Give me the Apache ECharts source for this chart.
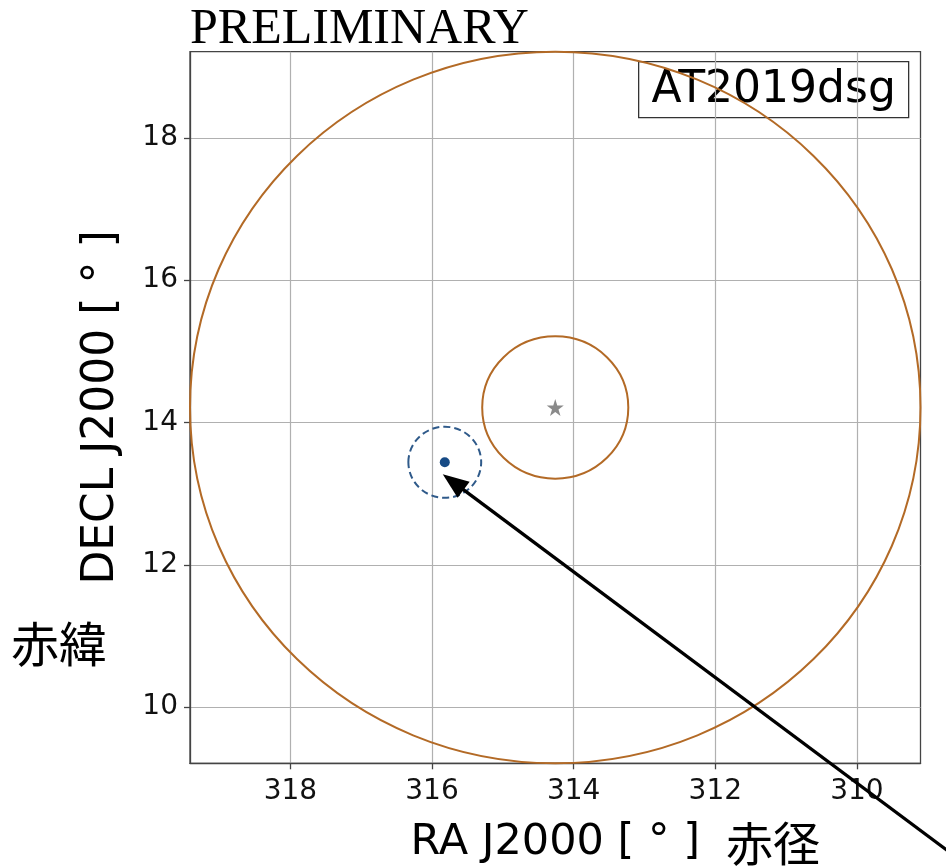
<!DOCTYPE html>
<html>
<head>
<meta charset="utf-8">
<script src="https://cdn.jsdelivr.net/npm/echarts@6/dist/echarts.min.js"></script>
<style>html,body{margin:0;padding:0;background:#fff;}#c{width:946px;height:866px;}</style>
</head>
<body>
<div id="c"></div>
<script>
// ---- data ----
const sourceName = 'AT2019dsg';
const sourcePos = [314.26, 14.21];          // star (RA, Dec)
const brownRadii = [5, 1];                   // brown circles around the source, deg
const bluePoint = [315.82, 13.44];           // blue point (RA, Dec)
const blueRadius = [0.5];                    // dashed circle radius, deg
const xTicks = [310, 312, 314, 316, 318];
const yTicks = [10, 12, 14, 16, 18];
const xName = 'RA J2000 [ ° ]';
const yName = 'DECL J2000 [ ° ]';
const xNameJa = '赤径';
const yNameJa = '赤緯';
const watermark = 'PRELIMINARY';

// ---- derived axis limits (outer circle bounds) ----
const d2r = Math.PI / 180;
const outerR = brownRadii[0];
const xHalf = outerR / Math.cos(sourcePos[1] * d2r);
const xMin = sourcePos[0] - xHalf, xMax = sourcePos[0] + xHalf;
const yMin = sourcePos[1] - outerR, yMax = sourcePos[1] + outerR;

const brownData = brownRadii.map(r => [sourcePos[0], sourcePos[1], r]);
const blueCircleData = blueRadius.map(r => [bluePoint[0], bluePoint[1], r]);

function circleRenderer(color, dash) {
  return function (params, api) {
    const ra = api.value(0), dec = api.value(1), r = api.value(2);
    const c = api.coord([ra, dec]);
    const sz = api.size([2 * r / Math.cos(dec * d2r), 2 * r]);
    return {
      type: 'ellipse',
      shape: { cx: c[0], cy: c[1], rx: sz[0] / 2, ry: sz[1] / 2 },
      style: { fill: null, stroke: color, lineWidth: 2, lineDash: dash || null }
    };
  };
}

const FONT = 'DejaVu Sans';
const chart = echarts.init(document.getElementById('c'), null, { renderer: 'canvas' });

const option = {
  backgroundColor: '#ffffff',
  animation: false,
  grid: { left: 190, right: 25.5, top: 51.7, bottom: 102.7, show: true, borderColor: '#444', borderWidth: 1.3, backgroundColor: 'transparent', containLabel: false, outerBoundsMode: 'none' },
  xAxis: {
    type: 'value', inverse: true, min: xMin, max: xMax, splitNumber: 5,
    name: xName, nameLocation: 'middle', nameGap: 58,
    nameTextStyle: { fontFamily: FONT, fontSize: 43, color: '#000' },
    axisLine: { show: true, onZero: false, lineStyle: { color: '#444', width: 1.3 } },
    axisTick: { show: true, length: 6, customValues: xTicks, lineStyle: { color: '#444', width: 1.3 } },
    axisLabel: { customValues: xTicks, margin: 14, fontFamily: FONT, fontSize: 28, color: '#111' },
    splitLine: { show: true, lineStyle: { color: '#b0b0b0', width: 1.2 } }
  },
  yAxis: {
    type: 'value', min: yMin, max: yMax, splitNumber: 5,
    name: yName, nameLocation: 'middle', nameGap: 66, nameRotate: 90,
    nameTextStyle: { fontFamily: FONT, fontSize: 44, color: '#000' },
    axisLine: { show: true, onZero: false, lineStyle: { color: '#444', width: 1.3 } },
    axisTick: { show: true, length: 6, customValues: yTicks, lineStyle: { color: '#444', width: 1.3 } },
    axisLabel: { customValues: yTicks, margin: 12, fontFamily: FONT, fontSize: 28, color: '#111' },
    splitLine: { show: true, lineStyle: { color: '#b0b0b0', width: 1.2 } }
  },
  series: [
    {
      type: 'custom', name: 'brown', clip: false, z: 3,
      encode: { x: 0, y: 1 },
      data: brownData,
      renderItem: circleRenderer('#b36a26')
    },
    {
      type: 'custom', name: 'blueCircle', clip: false, z: 3,
      encode: { x: 0, y: 1 },
      data: blueCircleData,
      renderItem: circleRenderer('#2f5a8a', [7, 4])
    },
    {
      type: 'scatter', name: sourceName, z: 4,
      symbol: 'path://M50,0 L61.2,34.5 L97.6,34.5 L68.2,55.9 L79.4,90.5 L50,69.1 L20.6,90.5 L31.8,55.9 L2.4,34.5 L38.8,34.5 Z',
      symbolSize: 17,
      itemStyle: { color: '#8a8a8a', opacity: 1 },
      data: [sourcePos]
    },
    {
      type: 'scatter', name: 'point', z: 4,
      symbol: 'circle', symbolSize: 10,
      itemStyle: { color: '#164a85', opacity: 1 },
      data: [bluePoint]
    }
  ],
  graphic: []
};
chart.setOption(option);

// ---- annotations ----
const p = chart.convertToPixel({ gridIndex: 0 }, bluePoint);
const ang = Math.atan2(375, 503);
const ux = Math.cos(ang), uy = Math.sin(ang);
const tip = [p[0] - 2, p[1] + 12];
const headLen = 26, headW = 10;
const base = [tip[0] + ux * headLen, tip[1] + uy * headLen];
const far = [tip[0] + ux * 720, tip[1] + uy * 720];

chart.setOption({
  graphic: [
    {
      type: 'text', left: 190, top: 5, z: 10,
      style: { text: watermark, font: '50px "Liberation Serif", "DejaVu Serif", serif', fill: '#000' }
    },
    {
      type: 'group', z: 10, left: 638, top: 61,
      children: [
        { type: 'rect', shape: { x: 0, y: 0, width: 270, height: 56 }, style: { fill: '#fff', stroke: '#333', lineWidth: 1.3 } },
        { type: 'text', x: 135, y: 29, style: { text: sourceName, font: '44px "DejaVu Sans"', fill: '#000', align: 'center', verticalAlign: 'middle' } }
      ]
    },
    {
      type: 'text', x: 726, y: 843, z: 10,
      style: { text: xNameJa, font: '47px "Noto Sans CJK JP"', fill: '#000', align: 'left', verticalAlign: 'middle' }
    },
    {
      type: 'text', x: 11, y: 644, z: 10,
      style: { text: yNameJa, font: '48px "Noto Sans CJK JP"', fill: '#000', align: 'left', verticalAlign: 'middle' }
    },
    {
      type: 'line', z: 20, silent: true,
      shape: { x1: base[0] - ux * 2, y1: base[1] - uy * 2, x2: far[0], y2: far[1] },
      style: { stroke: '#000', lineWidth: 3.3 }
    },
    {
      type: 'polygon', z: 20, silent: true,
      shape: { points: [tip, [base[0] - uy * headW, base[1] + ux * headW], [base[0] + uy * headW, base[1] - ux * headW]] },
      style: { fill: '#000' }
    }
  ]
});
</script>
</body>
</html>
